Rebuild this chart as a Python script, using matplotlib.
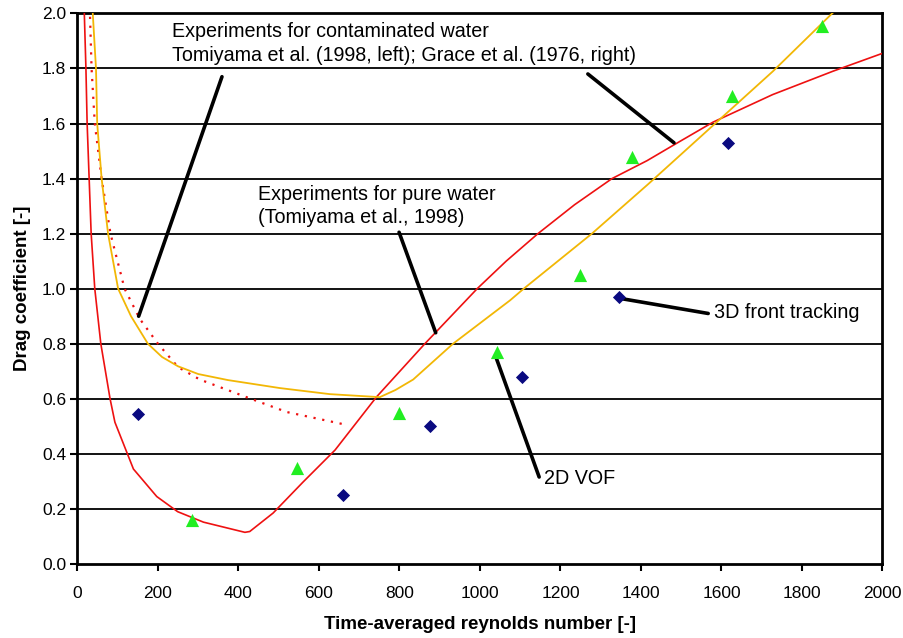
import numpy as np
import matplotlib.pyplot as plt

plt.rcParams['font.family'] = ['Liberation Sans', 'DejaVu Sans']

# 2D VOF (green triangles) and 3D front tracking (navy diamonds)
vof_re = [285, 545, 798, 1043, 1248, 1378, 1625, 1850]
vof_cd = [0.16, 0.35, 0.55, 0.77, 1.05, 1.48, 1.70, 1.955]
ft_re = [150, 660, 875, 1105, 1345, 1615]
ft_cd = [0.545, 0.25, 0.50, 0.68, 0.97, 1.53]

# pure water correlation (red solid)
pure_re = [15, 17, 21, 24, 29, 34, 43, 58, 81, 93, 139, 197, 249, 313, 416,
           428, 486, 560, 640, 743, 863, 993, 1065, 1144, 1235, 1328, 1415,
           1479, 1579, 1727, 1877, 2000]
pure_cd = [2.2, 2.0, 1.8, 1.6, 1.4, 1.2, 1.0, 0.8, 0.6, 0.515, 0.345, 0.245,
           0.19, 0.152, 0.115, 0.118, 0.185, 0.297, 0.414, 0.607, 0.80, 1.0,
           1.10, 1.20, 1.305, 1.40, 1.465, 1.52, 1.605, 1.705, 1.79, 1.855]

# contaminated water, Tomiyama (red dotted, left part)
cont_re = [29, 31, 35, 43, 60, 82, 117, 155, 200, 250, 304, 431, 520, 660]
cont_cd = [2.1, 2.0, 1.8, 1.6, 1.4, 1.2, 1.0, 0.89, 0.8, 0.715, 0.67, 0.6,
           0.552, 0.508]

# contaminated water, Grace (yellow)
grace_re = [35, 38, 46, 49, 60, 76, 101, 133, 175, 210, 250, 300, 374, 503,
            627, 751, 790, 834, 933, 1075, 1107, 1278, 1418, 1728, 1875, 1890]
grace_cd = [2.1, 2.0, 1.8, 1.6, 1.4, 1.2, 1.0, 0.9, 0.8, 0.752, 0.718, 0.69,
            0.668, 0.639, 0.617, 0.606, 0.632, 0.67, 0.80, 0.958, 0.998, 1.20,
            1.38, 1.79, 2.0, 2.02]

# annotation texts: (text, x, y)
labels = [
    ("Experiments for contaminated water\nTomiyama et al. (1998, left); Grace et al. (1976, right)", 235, 1.89),
    ("Experiments for pure water\n(Tomiyama et al., 1998)", 448, 1.30),
    ("2D VOF", 1160, 0.312),
    ("3D front tracking", 1582, 0.915),
]
# leader lines: (x0, y0, x1, y1)
leaders = [
    (359, 1.77, 152, 0.90),
    (1268, 1.78, 1482, 1.53),
    (799, 1.205, 890, 0.84),
    (1040, 0.75, 1147, 0.316),
    (1343, 0.966, 1567, 0.91),
]

fig = plt.figure(figsize=(9.04, 6.38), dpi=100)
ax = fig.add_axes([0.0857, 0.116, 0.8905, 0.863])

for yv in np.arange(0.2, 2.0, 0.2):
    ax.axhline(yv, color='black', lw=1.3, zorder=1)

ax.plot(pure_re, pure_cd, color='#ee1111', lw=1.2, zorder=3)
ax.plot(cont_re, cont_cd, color='#ee1111', lw=1.6, ls=(0, (1, 3)), zorder=3)
ax.plot(grace_re, grace_cd, color='#f2b705', lw=1.3, zorder=3)

for x0, y0, x1, y1 in leaders:
    ax.annotate('', xy=(x1, y1), xytext=(x0, y0),
                arrowprops=dict(arrowstyle='-', lw=2.6, color='black',
                                shrinkA=0, shrinkB=0), zorder=4)

ax.scatter(vof_re, vof_cd, marker='^', s=90, color='#22ee22', zorder=5, linewidths=0)
ax.scatter(ft_re, ft_cd, marker='D', s=45, color='#0a0a80', zorder=5, linewidths=0)

for txt, x, y in labels:
    ax.text(x, y, txt, fontsize=14.2, va='center', ha='left', linespacing=1.3, zorder=6)

ax.set_xlim(0, 2000)
ax.set_ylim(0, 2.0)
ax.set_xticks(np.arange(0, 2001, 200))
ax.set_yticks(np.arange(0, 2.01, 0.2))
ax.set_yticklabels([f"{v:.1f}" for v in np.arange(0, 2.01, 0.2)])
ax.tick_params(direction='out', length=5, width=1.5, labelsize=12.5, pad=3)
ax.tick_params(axis='x', pad=11)
for s in ax.spines.values():
    s.set_linewidth(2.0)

ax.set_xlabel('Time-averaged reynolds number [-]', fontsize=13.5, fontweight='bold', labelpad=11)
ax.set_ylabel('Drag coefficient [-]', fontsize=13.5, fontweight='bold', labelpad=8)

fig.savefig('out.png', dpi=100)
